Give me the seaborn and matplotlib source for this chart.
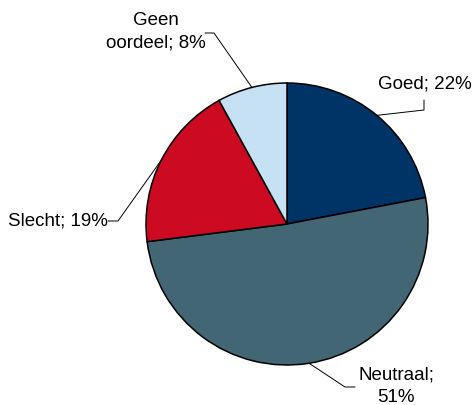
import numpy as np
import seaborn as sns
import matplotlib.pyplot as plt

# Data
labels = ["Goed", "Neutraal", "Slecht", "Geen\noordeel"]
shares = [22, 51, 19, 8]
colors = ["#003366", "#426674", "#CC0A22", "#C6E0F4"]

sns.set_theme(style="white")
plt.rcParams['font.family'] = ['Liberation Sans', 'DejaVu Sans']

fig = plt.figure(figsize=(4.74, 4.05), dpi=100)
ax = fig.add_axes([0, 0, 1, 1])
ax.set_xlim(0, 474)
ax.set_ylim(0, 405)
ax.set_aspect('equal')
ax.axis('off')

cx, cy, r = 287, 181, 141
wedges, _ = ax.pie(shares, colors=colors, startangle=90, counterclock=False,
                   center=(cx, cy), radius=r, frame=True,
                   wedgeprops=dict(edgecolor='black', linewidth=1.1))
ax.set_xlim(0, 474)
ax.set_ylim(0, 405)
ax.axis('off')

# label layout: elbow point, end point, text position, alignment
layout = [
    ((424, 295), (424, 305), (378, 321), 'left'),
    ((345, 18), (355, 18), (396, 19), 'center'),
    ((118, 184), (108, 184), (108, 184), 'right'),
    ((214, 372), (205, 372), (156, 373), 'center'),
]

for w, lab, val, (elbow, end, tpos, ha) in zip(wedges, labels, shares, layout):
    ang = np.deg2rad((w.theta1 + w.theta2) / 2)
    sx, sy = cx + r * np.cos(ang), cy + r * np.sin(ang)
    ax.plot([sx, elbow[0], end[0]], [sy, elbow[1], end[1]],
            color='black', linewidth=0.7)
    if lab == "Neutraal":
        text = f"{lab};\n{val}%"
    else:
        text = f"{lab}; {val}%"
    ax.text(tpos[0], tpos[1], text, ha=ha, va='center', fontsize=13.5,
            color='black', linespacing=1.4, multialignment='center')

plt.savefig("out.png", dpi=100)
